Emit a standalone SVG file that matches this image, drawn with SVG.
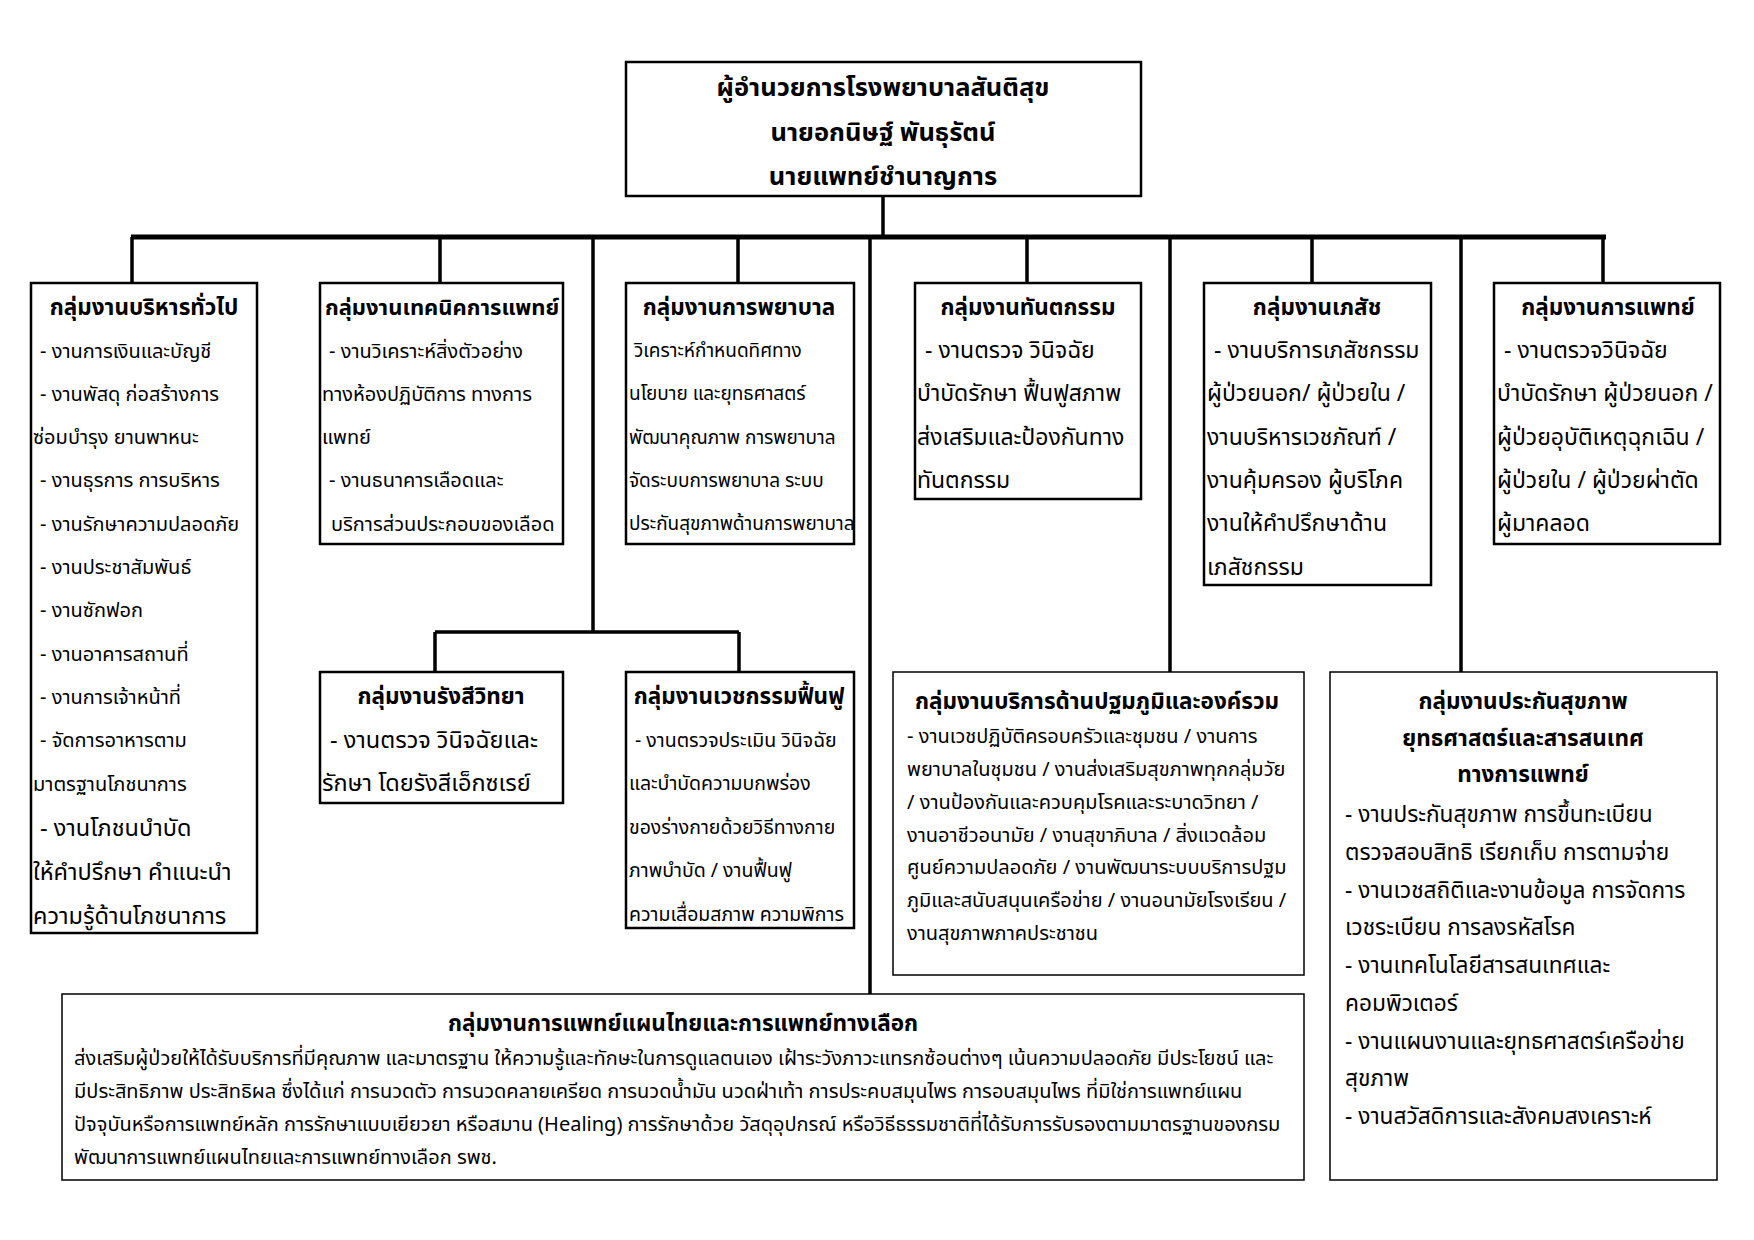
<svg xmlns="http://www.w3.org/2000/svg" width="1754" height="1240" viewBox="0 0 1754 1240">
<style>
text{font-family:"Noto Sans Thai","Noto Sans","Liberation Sans",sans-serif;fill:#000;}
.t{font-weight:bold;font-size:22.5px;text-anchor:middle;}
.h{font-weight:bold;font-size:25.5px;text-anchor:middle;}
.b{font-size:20px;}
.s{font-size:19px;}
.m{font-size:23px;}
.x{font-size:20px;}
.r{font-size:19.5px;}
.y{font-size:22.7px;}
.l{font-size:23.5px;}
.box{fill:#fff;stroke:#000;stroke-width:2.5;}
.thin{fill:#fff;stroke:#000;stroke-width:1.5;}
.c{fill:none;stroke:#000;stroke-width:3.5;}
.bar{fill:none;stroke:#000;stroke-width:5;}
</style>
<rect width="1754" height="1240" fill="#fff"/>
<g id="connectors">
<path class="c" d="M883 196V237"/>
<path class="bar" d="M131 237H1606"/>
<path class="c" d="M132 237V283M440 237V283M738 237V283M1027 237V283M1312 237V283M1603 237V283"/>
<path class="c" d="M593 237V632M435 632H739M435 632V672M739 632V672"/>
<path class="c" d="M870 237V994"/>
<path class="c" d="M1170 237V672"/>
<path class="c" d="M1461 237V672"/>
</g>
<g id="director">
<rect class="box" x="626" y="62" width="515" height="134"/>
<text class="h" x="883" y="96">ผู้อำนวยการโรงพยาบาลสันติสุข</text>
<text class="h" x="883" y="141">นายอกนิษฐ์  พันธุรัตน์</text>
<text class="h" x="883" y="185">นายแพทย์ชำนาญการ</text>
</g>
<g id="general-admin">
<rect class="box" x="31" y="283" width="226" height="650"/>
<text class="t" x="144" y="315">กลุ่มงานบริหารทั่วไป</text>
<g class="b">
<text x="40" y="358">- งานการเงินและบัญชี</text>
<text x="40" y="401">- งานพัสดุ ก่อสร้างการ</text>
<text x="33" y="444">ซ่อมบำรุง ยานพาหนะ</text>
<text x="40" y="487">- งานธุรการ การบริหาร</text>
<text x="40" y="531">- งานรักษาความปลอดภัย</text>
<text x="40" y="574">- งานประชาสัมพันธ์</text>
<text x="40" y="617">- งานซักฟอก</text>
<text x="40" y="661">- งานอาคารสถานที่</text>
<text x="40" y="704">- งานการเจ้าหน้าที่</text>
<text x="40" y="747">- จัดการอาหารตาม</text>
<text x="33" y="791">มาตรฐานโภชนาการ</text>
<text x="40" y="836" class="l">- งานโภชนบำบัด</text>
<text x="33" y="880" class="l">ให้คำปรึกษา คำแนะนำ</text>
<text x="33" y="924" class="l">ความรู้ด้านโภชนาการ</text>
</g>
</g>
<g id="med-tech">
<rect class="box" x="320" y="283" width="243" height="261"/>
<text class="t" x="442" y="315" style="font-size:22px">กลุ่มงานเทคนิคการแพทย์</text>
<g class="b">
<text x="329" y="358">- งานวิเคราะห์สิ่งตัวอย่าง</text>
<text x="322" y="401">ทางห้องปฏิบัติการ ทางการ</text>
<text x="322" y="444">แพทย์</text>
<text x="329" y="487">- งานธนาคารเลือดและ</text>
<text x="331" y="531">บริการส่วนประกอบของเลือด</text>
</g>
</g>
<g id="nursing">
<path class="box" d="M854 505V544H626V283H854V505"/>
<text class="t" x="739" y="315">กลุ่มงานการพยาบาล</text>
<g class="s">
<text x="634" y="357">วิเคราะห์กำหนดทิศทาง</text>
<text x="629" y="400">นโยบาย และยุทธศาสตร์</text>
<text x="629" y="444">พัฒนาคุณภาพ การพยาบาล</text>
<text x="629" y="487">จัดระบบการพยาบาล ระบบ</text>
<text x="629" y="530">ประกันสุขภาพด้านการพยาบาล</text>
</g>
</g>
<g id="dental">
<rect class="box" x="915" y="283" width="226" height="216"/>
<text class="t" x="1028" y="315">กลุ่มงานทันตกรรม</text>
<g class="m">
<text x="925" y="358">- งานตรวจ วินิจฉัย</text>
<text x="917" y="401">บำบัดรักษา ฟื้นฟูสภาพ</text>
<text x="917" y="445">ส่งเสริมและป้องกันทาง</text>
<text x="917" y="488">ทันตกรรม</text>
</g>
</g>
<g id="pharmacy">
<rect class="box" x="1204" y="283" width="227" height="302"/>
<text class="t" x="1317" y="315">กลุ่มงานเภสัช</text>
<g class="m">
<text x="1214" y="358">- งานบริการเภสัชกรรม</text>
<text x="1207" y="401">ผู้ป่วยนอก/ ผู้ป่วยใน /</text>
<text x="1207" y="445">งานบริหารเวชภัณฑ์ /</text>
<text x="1207" y="488">งานคุ้มครอง ผู้บริโภค</text>
<text x="1207" y="531">งานให้คำปรึกษาด้าน</text>
<text x="1207" y="575">เภสัชกรรม</text>
</g>
</g>
<g id="medical">
<rect class="box" x="1494" y="283" width="226" height="261"/>
<text class="t" x="1608" y="315">กลุ่มงานการแพทย์</text>
<g class="m">
<text x="1504" y="358">- งานตรวจวินิจฉัย</text>
<text x="1497" y="401">บำบัดรักษา ผู้ป่วยนอก /</text>
<text x="1497" y="445">ผู้ป่วยอุบัติเหตุฉุกเฉิน /</text>
<text x="1497" y="488">ผู้ป่วยใน / ผู้ป่วยผ่าตัด</text>
<text x="1497" y="531">ผู้มาคลอด</text>
</g>
</g>
<g id="radiology">
<rect class="box" x="320" y="672" width="243" height="131"/>
<text class="t" x="441" y="704">กลุ่มงานรังสีวิทยา</text>
<g class="l">
<text x="330" y="748">- งานตรวจ วินิจฉัยและ</text>
<text x="322" y="791">รักษา โดยรังสีเอ็กซเรย์</text>
</g>
</g>
<g id="rehab">
<rect class="box" x="626" y="672" width="228" height="256"/>
<text class="t" x="739" y="704">กลุ่มงานเวชกรรมฟื้นฟู</text>
<g class="r">
<text x="635" y="747">- งานตรวจประเมิน วินิจฉัย</text>
<text x="629" y="790">และบำบัดความบกพร่อง</text>
<text x="629" y="834">ของร่างกายด้วยวิธีทางกาย</text>
<text x="629" y="877">ภาพบำบัด / งานฟื้นฟู</text>
<text x="629" y="921">ความเสื่อมสภาพ ความพิการ</text>
</g>
</g>
<g id="primary-care">
<rect class="thin" x="893" y="672" width="411" height="303"/>
<text class="t" x="1097" y="709">กลุ่มงานบริการด้านปฐมภูมิและองค์รวม</text>
<g class="x">
<text x="907" y="743">- งานเวชปฏิบัติครอบครัวและชุมชน / งานการ</text>
<text x="907" y="776">พยาบาลในชุมชน / งานส่งเสริมสุขภาพทุกกลุ่มวัย</text>
<text x="907" y="809">/ งานป้องกันและควบคุมโรคและระบาดวิทยา /</text>
<text x="907" y="842">งานอาชีวอนามัย / งานสุขาภิบาล / สิ่งแวดล้อม</text>
<text x="907" y="874">ศูนย์ความปลอดภัย / งานพัฒนาระบบบริการปฐม</text>
<text x="907" y="907">ภูมิและสนับสนุนเครือข่าย / งานอนามัยโรงเรียน /</text>
<text x="907" y="940">งานสุขภาพภาคประชาชน</text>
</g>
</g>
<g id="insurance">
<rect class="thin" x="1330" y="672" width="387" height="508"/>
<text class="t" x="1523" y="709">กลุ่มงานประกันสุขภาพ</text>
<text class="t" x="1523" y="746">ยุทธศาสตร์และสารสนเทศ</text>
<text class="t" x="1523" y="782">ทางการแพทย์</text>
<g class="y">
<text x="1345" y="822">- งานประกันสุขภาพ การขึ้นทะเบียน</text>
<text x="1345" y="860">ตรวจสอบสิทธิ เรียกเก็บ การตามจ่าย</text>
<text x="1345" y="898">- งานเวชสถิติและงานข้อมูล การจัดการ</text>
<text x="1345" y="935">เวชระเบียน การลงรหัสโรค</text>
<text x="1345" y="973">- งานเทคโนโลยีสารสนเทศและ</text>
<text x="1345" y="1011">คอมพิวเตอร์</text>
<text x="1345" y="1049">- งานแผนงานและยุทธศาสตร์เครือข่าย</text>
<text x="1345" y="1086">สุขภาพ</text>
<text x="1345" y="1124">- งานสวัสดิการและสังคมสงเคราะห์</text>
</g>
</g>
<g id="thai-traditional">
<rect class="thin" x="62" y="994" width="1242" height="186"/>
<text class="t" x="683" y="1031">กลุ่มงานการแพทย์แผนไทยและการแพทย์ทางเลือก</text>
<g class="x">
<text x="74" y="1065">ส่งเสริมผู้ป่วยให้ได้รับบริการที่มีคุณภาพ และมาตรฐาน ให้ความรู้และทักษะในการดูแลตนเอง เฝ้าระวังภาวะแทรกซ้อนต่างๆ เน้นความปลอดภัย มีประโยชน์ และ</text>
<text x="74" y="1098">มีประสิทธิภาพ ประสิทธิผล ซึ่งได้แก่ การนวดตัว การนวดคลายเครียด การนวดน้ำมัน นวดฝ่าเท้า การประคบสมุนไพร การอบสมุนไพร ที่มิใช่การแพทย์แผน</text>
<text x="74" y="1131">ปัจจุบันหรือการแพทย์หลัก การรักษาแบบเยียวยา หรือสมาน (Healing) การรักษาด้วย วัสดุอุปกรณ์ หรือวิธีธรรมชาติที่ได้รับการรับรองตามมาตรฐานของกรม</text>
<text x="74" y="1164">พัฒนาการแพทย์แผนไทยและการแพทย์ทางเลือก รพช.</text>
</g>
</g>
</svg>
